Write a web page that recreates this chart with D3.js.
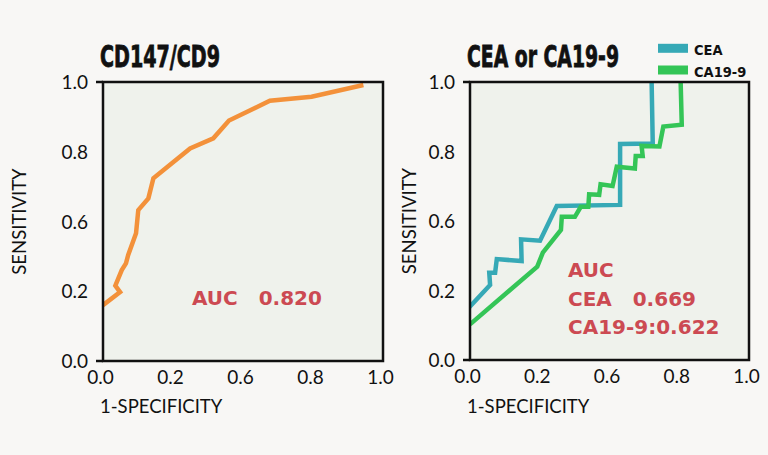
<!DOCTYPE html>
<html><head><meta charset="utf-8">
<script src="https://cdn.jsdelivr.net/npm/d3@7"></script>
<style>
html,body{margin:0;padding:0;background:#f8f7f5;}
svg{display:block;}
</style></head>
<body>
<svg id="chart" width="768" height="455"></svg>
<script>
// ---- data (x = 1-specificity, y = sensitivity, in axis fraction) ----
const tickPositions = [0, 0.25, 0.5, 0.75, 1];
const tickLabels = ["0.0", "0.2", "0.6", "0.8", "1.0"];

const cd147X = [0, 0.061, 0.044, 0.067, 0.082, 0.090, 0.118, 0.126, 0.162, 0.180, 0.311, 0.394, 0.45, 0.596, 0.745, 0.930];
const cd147Y = [0.20, 0.247, 0.270, 0.326, 0.350, 0.380, 0.458, 0.541, 0.583, 0.655, 0.762, 0.798, 0.862, 0.933, 0.947, 0.989];

const ceaX = [-0.01, 0.072, 0.069, 0.090, 0.096, 0.185, 0.183, 0.251, 0.311, 0.538, 0.538, 0.655, 0.651];
const ceaY = [0.182, 0.270, 0.314, 0.314, 0.363, 0.356, 0.434, 0.429, 0.554, 0.558, 0.777, 0.779, 1.0];

const ca199X = [0, 0.241, 0.261, 0.326, 0.329, 0.376, 0.397, 0.424, 0.427, 0.463, 0.468, 0.511, 0.526, 0.591, 0.594, 0.619, 0.615, 0.679, 0.693, 0.759, 0.755];
const ca199Y = [0.128, 0.336, 0.386, 0.468, 0.515, 0.515, 0.551, 0.551, 0.596, 0.594, 0.632, 0.626, 0.695, 0.689, 0.734, 0.734, 0.770, 0.768, 0.840, 0.846, 1.0];

const seriesNames = ["CEA", "CA19-9"];
const titles = ["CD147/CD9", "CEA or CA19-9"];
const aucLeft = ["AUC   0.820"];
const aucRight = ["AUC", "CEA   0.669", "CA19-9:0.622"];

// ---- drawing ----
const svg = d3.select("#chart");
const colors = {orange:"#f3913a", teal:"#36a9b6", green:"#34c557", red:"#cc4a52", plot:"#eff2ec"};
const tickFont = "'Lato','Open Sans',sans-serif";
const boldFont = "'DejaVu Sans',sans-serif";

const panels = [
  {x0:103, x1:383, y0:82, y1:361, title:titles[0], titleLen:120, ylabX:20,
   series:[{xs:cd147X, ys:cd147Y, c:colors.orange}]},
  {x0:470, x1:749, y0:82, y1:360, title:titles[1], titleLen:152, ylabX:410,
   series:[{xs:ceaX, ys:ceaY, c:colors.teal},{xs:ca199X, ys:ca199Y, c:colors.green}]}
];

panels.forEach((p, i) => {
  const x = d3.scaleLinear().domain([0,1]).range([p.x0, p.x1]);
  const y = d3.scaleLinear().domain([0,1]).range([p.y1, p.y0]);
  const g = svg.append("g");
  const clipId = "clip" + i;
  svg.append("clipPath").attr("id", clipId).append("rect")
    .attr("x", p.x0).attr("y", p.y0 - 1).attr("width", p.x1 - p.x0).attr("height", p.y1 - p.y0 + 1);

  g.append("rect").attr("x", p.x0).attr("y", p.y0).attr("width", p.x1 - p.x0).attr("height", p.y1 - p.y0)
    .attr("fill", colors.plot);

  const line = d3.line().x(d => x(d[0])).y(d => y(d[1]));
  p.series.forEach(s => {
    const pts = s.xs.map((v, k) => [v, s.ys[k]]);
    g.append("path").attr("d", line(pts)).attr("fill", "none").attr("stroke", s.c)
      .attr("stroke-width", 4.5).attr("stroke-linejoin", "miter").attr("clip-path", `url(#${clipId})`);
  });

  // frame
  g.append("rect").attr("x", p.x0).attr("y", p.y0).attr("width", p.x1 - p.x0).attr("height", p.y1 - p.y0)
    .attr("fill", "none").attr("stroke", "#111").attr("stroke-width", 2.5);

  // axes
  const fmt = (d) => tickLabels[tickPositions.indexOf(d)];
  const ax = g.append("g").attr("transform", `translate(0,${p.y1})`)
    .call(d3.axisBottom(x).tickValues(tickPositions).tickFormat(fmt).tickSize(0).tickPadding(10));
  const ay = g.append("g").attr("transform", `translate(${p.x0 - 7},0)`)
    .call(d3.axisLeft(y).tickValues(tickPositions).tickFormat(fmt).tickSize(0).tickPadding(8));
  [ax, ay].forEach(a => {
    a.select(".domain").remove();
    a.selectAll("text").attr("font-family", tickFont).attr("font-size", 19).attr("fill", "#111");
  });
  ax.selectAll("text").attr("dx", -3);
  ay.selectAll("text").attr("dy", "0.35em");
  // end ticks on y axis (top and bottom)
  [0, 1].forEach(v => {
    g.append("line").attr("x1", p.x0 - 7).attr("x2", p.x0).attr("y1", y(v)).attr("y2", y(v))
      .attr("stroke", "#111").attr("stroke-width", 2.5);
  });

  // axis titles
  g.append("text").attr("x", p.x0 - 3).attr("y", 413).text("1-SPECIFICITY")
    .attr("font-family", tickFont).attr("font-size", 18.5).attr("fill", "#111");
  g.append("text").attr("transform", `translate(${p.ylabX + 6},${(p.y0 + p.y1) / 2}) rotate(-90)`)
    .attr("text-anchor", "middle").text("SENSITIVITY")
    .attr("font-family", tickFont).attr("font-size", 18.5).attr("fill", "#111");

  // panel title
  g.append("text").attr("x", p.x0 - 3).attr("y", 67).text(p.title)
    .attr("font-family", "'DejaVu Sans Condensed','Liberation Sans Narrow',sans-serif")
    .attr("font-weight", "bold").attr("font-size", 30).attr("fill", "#111")
    .attr("stroke", "#111").attr("stroke-width", 0.8)
    .attr("textLength", p.titleLen).attr("lengthAdjust", "spacingAndGlyphs");
});

// AUC annotations
svg.append("text").attr("x", 192).attr("y", 305).text(aucLeft[0])
  .style("white-space", "pre")
  .attr("font-family", boldFont).attr("font-weight", "bold").attr("font-size", 20).attr("fill", colors.red);
aucRight.forEach((t, k) => {
  svg.append("text").attr("x", 568).attr("y", 277 + k * 28.5).text(t).style("white-space", "pre")
    .attr("font-family", boldFont).attr("font-weight", "bold").attr("font-size", 20).attr("fill", colors.red);
});

// legend
const legColors = [colors.teal, colors.green];
seriesNames.forEach((n, k) => {
  const ly = 48.3 + k * 21.7;
  svg.append("rect").attr("x", 658).attr("y", ly - 4.5).attr("width", 30).attr("height", 9).attr("fill", legColors[k]);
  svg.append("text").attr("x", 694).attr("y", ly + 6.5).text(n)
    .attr("font-family", "'DejaVu Sans Condensed','DejaVu Sans',sans-serif")
    .attr("font-weight", "bold").attr("font-size", 14.5).attr("fill", "#111");
});
</script>
</body></html>
